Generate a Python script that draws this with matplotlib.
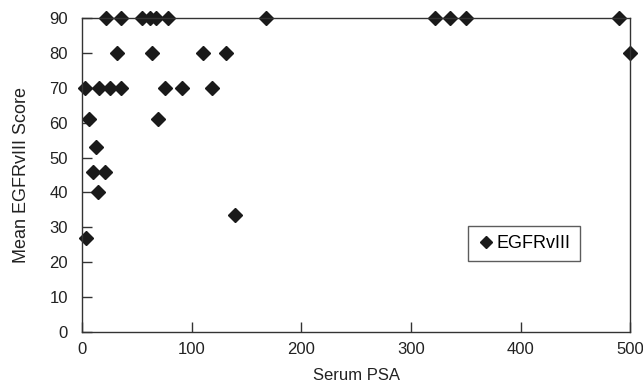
import matplotlib
matplotlib.use("Agg")
from matplotlib import pyplot as plt

plt.rcParams['font.family'] = ['Liberation Sans', 'DejaVu Sans']

# serum PSA vs mean EGFRvIII score
psa = [22, 35.6, 54.7, 62, 67.5, 78.5, 168, 322, 336, 350, 490,
       32, 64, 110, 131, 500,
       2.7, 15.5, 25.5, 36, 76, 91, 118.6,
       6.4, 69,
       12.8,
       10, 21,
       14.3,
       140,
       3.6]
score = [90, 90, 90, 90, 90, 90, 90, 90, 90, 90, 90,
         80, 80, 80, 80, 80,
         70, 70, 70, 70, 70, 70, 70,
         61, 61,
         53,
         46, 46,
         40,
         33.5,
         27]

fig = plt.figure(figsize=(6.43, 3.86), dpi=100)
ax = fig.add_axes([0.1275, 0.14, 0.8525, 0.813])

ax.plot(psa, score, 'D', color='#1a1a1a', markersize=7.5, clip_on=False,
        label='EGFRvIII')

ax.set_xlim(0, 500)
ax.set_ylim(0, 90)
ax.set_xticks(range(0, 501, 100))
ax.set_yticks(range(0, 91, 10))
ax.tick_params(direction='in', length=7, width=1, colors='#333333',
               labelcolor='#222222', labelsize=12)
ax.tick_params(axis='x', pad=7)
ax.tick_params(axis='y', pad=10)
for s in ax.spines.values():
    s.set_color('#333333')
    s.set_linewidth(1)

ax.set_xlabel('Serum PSA', fontsize=12, color='#222222', labelpad=8)
ax.set_ylabel('Mean EGFRvIII Score', fontsize=13, color='#222222', labelpad=14)

leg = ax.legend(loc='upper left', bbox_to_anchor=(0.704, 0.338), fontsize=13,
                frameon=True, fancybox=False, handletextpad=0.1,
                handlelength=1.0, borderpad=0.5, markerscale=0.85,
                borderaxespad=0)
leg.get_frame().set_edgecolor('#333333')
leg.get_frame().set_linewidth(1)

fig.savefig('out.png', dpi=100)
